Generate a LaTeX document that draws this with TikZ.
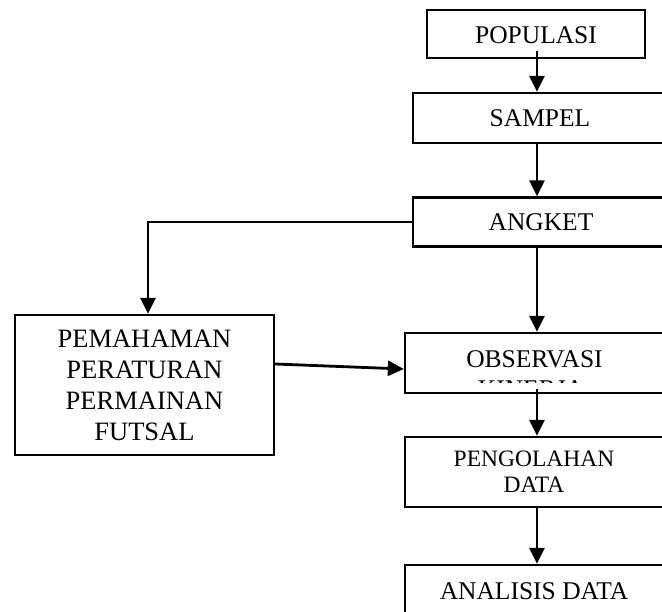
\documentclass[tikz,border=0pt]{standalone}
\usepackage{fontspec}
\setmainfont{Liberation Serif}
\usepackage{tikz}
\usetikzlibrary{arrows.meta, positioning, calc}
\newcommand{\boxfont}{\fontsize{25.5}{31}\selectfont}
\newcommand{\smallboxfont}{\fontsize{23.5}{26}\selectfont}
\tikzset{
  flowbox/.style={
    rectangle, draw=black, line width=2.3pt,
    align=center, inner sep=0pt, font=\boxfont
  },
  arr/.style={-{Triangle[width=15pt,length=16pt]}, line width=2.8pt},
}

\begin{document}
\begin{tikzpicture}[x=1pt, y=-1pt]
        \clip (0,0) rectangle (662,612);
        \coordinate (axis) at (537,0);
        \node[flowbox, minimum width=218pt, minimum height=48pt, text height=19pt, text depth=0pt] (pop) at (536,34) {POPULASI};
        \node[flowbox, minimum width=254pt, minimum height=50pt] (sam) at (540,118) {SAMPEL};
        \node[flowbox, minimum width=256pt, minimum height=49pt] (ang) at (541,222) {ANGKET};
        \node[flowbox, font=\fontsize{26.5}{31}\selectfont, minimum width=259pt, minimum height=140pt] (pem) at (144.5,385) {PEMAHAMAN\\PERATURAN\\PERMAINAN\\FUTSAL};
        \node[flowbox, minimum width=259pt, minimum height=60pt, text height=17pt, text depth=8pt] (obs) at (534.5,363) {OBSERVASI};
        \begin{scope}
          \clip (405,381) rectangle (664,383);
          \node[anchor=base, font=\boxfont, inner sep=0pt] (kin) at (531,398) {KINERJA};
        \end{scope}
        \node[flowbox, font=\smallboxfont, minimum width=258pt, minimum height=70pt] (olah) at (534,472) {PENGOLAHAN\\DATA};
        \node[flowbox, minimum width=258pt, minimum height=52pt] (ana) at (534,591) {ANALISIS DATA};
        \draw[arr] ([yshift=8pt]pop.south -| axis) -- (sam.north -| axis);
        \draw[arr] (sam.south -| axis) -- (ang.north -| axis);
        \draw[arr] (ang.south -| axis) -- (obs.north -| axis);
        \draw[arr] (ang.west) -| ([xshift=3.5pt]pem.north);
        \draw[arr] ([yshift=21pt]pem.east) -- ([yshift=-6pt]obs.west);
        \draw[arr] ([yshift=5pt]obs.south -| axis) -- (olah.north -| axis);
        \draw[arr] (olah.south -| axis) -- (ana.north -| axis);
      \end{tikzpicture}
\end{document}
